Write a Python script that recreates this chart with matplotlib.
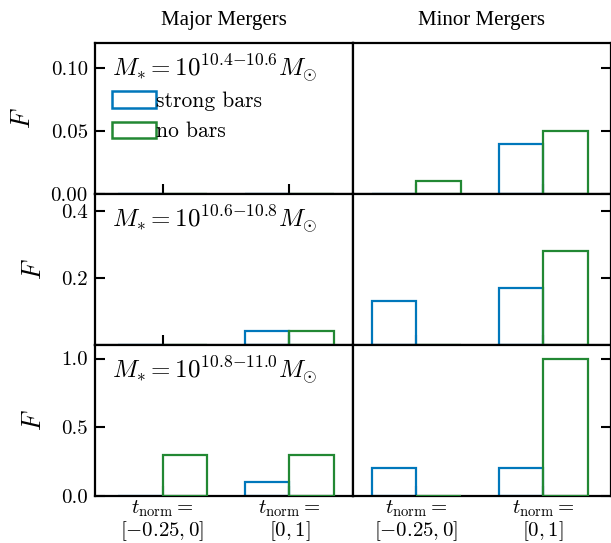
import matplotlib
matplotlib.use('Agg')
import matplotlib.pyplot as plt
import matplotlib.patches as mpatches
import numpy as np

plt.rcParams['font.family'] = 'serif'
plt.rcParams['font.serif'] = ['cmr10', 'DejaVu Serif']
plt.rcParams['mathtext.fontset'] = 'cm'
plt.rcParams['axes.formatter.use_mathtext'] = True

# data
periods = ['$t_\\mathrm{norm}=$\n$[-0.25,0]$', '$t_\\mathrm{norm}=$\n$[0,1]$']
columns = ['Major Mergers', 'Minor Mergers']
mass_bins = ['$M_{*}=10^{10.4{-}10.6}M_{\\odot}$',
             '$M_{*}=10^{10.6{-}10.8}M_{\\odot}$',
             '$M_{*}=10^{10.8{-}11.0}M_{\\odot}$']
# [row][col] -> values per period
strong_bars = [
    [[0.0, 0.0], [0.0, 0.04]],
    [[0.0, 0.04], [0.13, 0.17]],
    [[0.0, 0.1], [0.2, 0.2]],
]
no_bars = [
    [[0.0, 0.0], [0.01, 0.05]],
    [[0.0, 0.04], [0.0, 0.28]],
    [[0.3, 0.3], [0.0, 1.0]],
]
ylims = [0.12, 0.45, 1.1]
yticks = [[0.0, 0.05, 0.10], [0.2, 0.4], [0.0, 0.5, 1.0]]
ytick_labels = [['0.00', '0.05', '0.10'], ['0.2', '0.4'], ['0.0', '0.5', '1.0']]

c_strong = '#0077BB'
c_none = '#228833'
w = 0.35

fig, axes = plt.subplots(3, 2, figsize=(6.11, 5.43), dpi=100)
fig.subplots_adjust(left=0.155, right=1.0, top=0.921, bottom=0.087, hspace=0, wspace=0)

x = np.arange(len(periods))
for i in range(3):
    for j in range(2):
        ax = axes[i, j]
        ax.bar(x - w, strong_bars[i][j], width=w, align='edge', fill=False,
               edgecolor=c_strong, linewidth=1.6, zorder=2)
        ax.bar(x, no_bars[i][j], width=w, align='edge', fill=False,
               edgecolor=c_none, linewidth=1.6, zorder=3)
        ax.set_ylim(0, ylims[i])
        ax.set_yticks(yticks[i])
        if j == 0:
            ax.set_xlim(-0.535, 1.5)
            ax.set_yticklabels(ytick_labels[i])
            ax.set_ylabel('$F$', fontsize=19, labelpad=11)
            ax.tick_params(axis='y', left=True, right=False)
            ax.text(0.067, 0.773, mass_bins[i], transform=ax.transAxes,
                    fontsize=18, va='baseline', ha='left')
        else:
            ax.set_xlim(-0.5, 1.535)
            ax.set_yticklabels([])
            ax.tick_params(axis='y', left=False, right=True)
        ax.set_xticks(x)
        ax.tick_params(direction='in', length=7, width=1.5, labelsize=15, pad=5)
        if i == 2:
            ax.set_xticklabels(periods, fontsize=15, linespacing=1.0)
            ax.tick_params(axis='x', pad=2)
        else:
            ax.set_xticklabels([])
        for s in ax.spines.values():
            s.set_linewidth(1.6)
        if i == 0:
            ax.set_title(columns[j], fontsize=15, family='Liberation Serif', pad=13)

handles = [mpatches.Patch(facecolor='none', edgecolor=c_strong, linewidth=1.8, label='strong bars'),
           mpatches.Patch(facecolor='none', edgecolor=c_none, linewidth=1.8, label='no bars')]
axes[0, 0].legend(handles=handles, loc='upper left', bbox_to_anchor=(0.067, 0.68),
                  frameon=False, fontsize=15.5, handlelength=2.05, handleheight=0.8,
                  handletextpad=0.0, borderaxespad=0, borderpad=0, labelspacing=0.5)

fig.savefig('out.png', dpi=100)
